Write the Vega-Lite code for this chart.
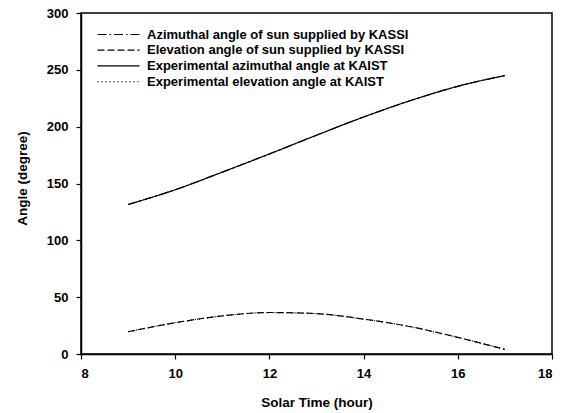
{
  "$schema": "https://vega.github.io/schema/vega-lite/v6.json",
  "width": 471,
  "height": 341,
  "autosize": {"type": "none"},
  "padding": {"left": 81, "top": 13, "right": 17, "bottom": 59},
  "background": "white",
  "config": {
    "font": "Liberation Sans",
    "view": {"stroke": "black", "strokeWidth": 1.5},
    "axis": {
      "domainColor": "black", "domainWidth": 1.5, "tickColor": "black", "tickWidth": 1.2, "tickSize": 5,
      "labelFont": "Liberation Sans", "labelFontWeight": "bold", "labelFontSize": 13, "labelColor": "black",
      "titleFont": "Liberation Sans", "titleFontWeight": "bold", "titleFontSize": 13.5, "titleColor": "black",
      "grid": false
    }
  },
  "data": {"values": [
    {"t": 9, "v": 131.5, "s": "Azimuthal angle of sun supplied by KASSI"},
    {"t": 10, "v": 144.5, "s": "Azimuthal angle of sun supplied by KASSI"},
    {"t": 11, "v": 160, "s": "Azimuthal angle of sun supplied by KASSI"},
    {"t": 12, "v": 176, "s": "Azimuthal angle of sun supplied by KASSI"},
    {"t": 13, "v": 192.5, "s": "Azimuthal angle of sun supplied by KASSI"},
    {"t": 14, "v": 208.5, "s": "Azimuthal angle of sun supplied by KASSI"},
    {"t": 15, "v": 223, "s": "Azimuthal angle of sun supplied by KASSI"},
    {"t": 16, "v": 235.5, "s": "Azimuthal angle of sun supplied by KASSI"},
    {"t": 17, "v": 245, "s": "Azimuthal angle of sun supplied by KASSI"},
    {"t": 9, "v": 19.6, "s": "Elevation angle of sun supplied by KASSI"},
    {"t": 10, "v": 27.5, "s": "Elevation angle of sun supplied by KASSI"},
    {"t": 11, "v": 33.5, "s": "Elevation angle of sun supplied by KASSI"},
    {"t": 12, "v": 36.5, "s": "Elevation angle of sun supplied by KASSI"},
    {"t": 13, "v": 35.5, "s": "Elevation angle of sun supplied by KASSI"},
    {"t": 14, "v": 30.7, "s": "Elevation angle of sun supplied by KASSI"},
    {"t": 15, "v": 24, "s": "Elevation angle of sun supplied by KASSI"},
    {"t": 16, "v": 14.6, "s": "Elevation angle of sun supplied by KASSI"},
    {"t": 17, "v": 4, "s": "Elevation angle of sun supplied by KASSI"},
    {"t": 9, "v": 131.5, "s": "Experimental azimuthal angle at KAIST"},
    {"t": 10, "v": 144.5, "s": "Experimental azimuthal angle at KAIST"},
    {"t": 11, "v": 160, "s": "Experimental azimuthal angle at KAIST"},
    {"t": 12, "v": 176, "s": "Experimental azimuthal angle at KAIST"},
    {"t": 13, "v": 192.5, "s": "Experimental azimuthal angle at KAIST"},
    {"t": 14, "v": 208.5, "s": "Experimental azimuthal angle at KAIST"},
    {"t": 15, "v": 223, "s": "Experimental azimuthal angle at KAIST"},
    {"t": 16, "v": 235.5, "s": "Experimental azimuthal angle at KAIST"},
    {"t": 17, "v": 245, "s": "Experimental azimuthal angle at KAIST"},
    {"t": 9, "v": 19.6, "s": "Experimental elevation angle at KAIST"},
    {"t": 10, "v": 27.5, "s": "Experimental elevation angle at KAIST"},
    {"t": 11, "v": 33.5, "s": "Experimental elevation angle at KAIST"},
    {"t": 12, "v": 36.5, "s": "Experimental elevation angle at KAIST"},
    {"t": 13, "v": 35.5, "s": "Experimental elevation angle at KAIST"},
    {"t": 14, "v": 30.7, "s": "Experimental elevation angle at KAIST"},
    {"t": 15, "v": 24, "s": "Experimental elevation angle at KAIST"},
    {"t": 16, "v": 14.6, "s": "Experimental elevation angle at KAIST"},
    {"t": 17, "v": 4, "s": "Experimental elevation angle at KAIST"}
  ]},
  "mark": {"type": "line", "interpolate": "monotone", "color": "black", "strokeWidth": 1.2},
  "encoding": {
    "x": {"field": "t", "type": "quantitative", "title": "Solar Time (hour)",
      "scale": {"domain": [8, 18], "nice": false},
      "axis": {"values": [8, 10, 12, 14, 16, 18], "labelPadding": 8, "titlePadding": 15}},
    "y": {"field": "v", "type": "quantitative", "title": "Angle (degree)",
      "scale": {"domain": [0, 300], "nice": false},
      "axis": {"values": [0, 50, 100, 150, 200, 250, 300], "labelPadding": 8, "titlePadding": 17, "titleY": 165}},
    "strokeDash": {"field": "s", "type": "nominal", "title": null,
      "scale": {
        "domain": ["Azimuthal angle of sun supplied by KASSI", "Elevation angle of sun supplied by KASSI", "Experimental azimuthal angle at KAIST", "Experimental elevation angle at KAIST"],
        "range": [[9, 3, 1.5, 3], [7, 3], [1, 0], [1, 3]]
      },
      "legend": {
        "orient": "none", "legendX": 31, "legendY": 15,
        "symbolType": "M-4.2,0H4.2", "symbolSize": 100, "symbolStrokeColor": "black", "symbolStrokeWidth": 1.2,
        "labelFont": "Liberation Sans", "labelFontWeight": "bold", "labelFontSize": 13, "labelColor": "black",
        "labelLimit": 400, "rowPadding": 1.7, "labelOffset": 22
      }
    }
  }
}
